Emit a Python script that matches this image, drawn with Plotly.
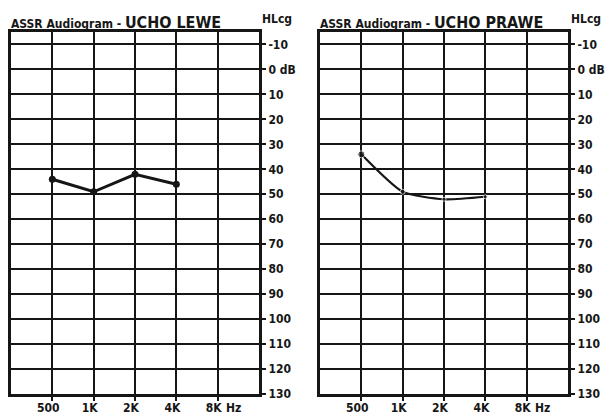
import plotly.graph_objects as go

freq_labels = ["500", "1K", "2K", "4K", "8K"]
freq_pos = [1, 2, 3, 4, 5]
db_ticks = [-10, 0, 10, 20, 30, 40, 50, 60, 70, 80, 90, 100, 110, 120, 130]
db_labels = ["-10", "0 dB", "10", "20", "30", "40", "50", "60", "70", "80", "90", "100", "110", "120", "130"]

left_freq = [1, 2, 3, 4]
left_db = [44, 49, 42, 46]
right_freq = [1, 2, 3, 4]
right_db = [34, 49, 52, 51]

title_head = "ASSR Audiogram -"
title_tails = ["UCHO LEWE", "UCHO PRAWE"]

FONT = "DejaVu Sans Condensed, Liberation Sans"
INK = "#161616"

W, H = 608, 417
fig = go.Figure()

xdoms = [(11 / W, 259 / W), (320 / W, 568 / W)]
ydom = ((H - 394) / H, (H - 32) / H)

fig.add_trace(go.Scatter(x=left_freq, y=left_db, mode="lines+markers",
                         line=dict(color=INK, width=3), marker=dict(size=7, color=INK),
                         xaxis="x", yaxis="y", showlegend=False))
fig.add_trace(go.Scatter(x=right_freq, y=right_db, mode="lines+markers",
                         line=dict(color=INK, width=2.2, shape="spline", smoothing=0.6),
                         marker=dict(size=[7, 5, 4, 4], color=INK),
                         xaxis="x2", yaxis="y2", showlegend=False))

tf = dict(family=FONT, size=12, color=INK, weight="bold")
for i, (xd, tail) in enumerate(zip(xdoms, title_tails)):
    sx = "" if i == 0 else "2"
    fig.update_layout(**{
        "xaxis" + sx: dict(domain=list(xd), range=[0, 6], tickvals=freq_pos, ticktext=freq_labels,
                           showgrid=True, gridcolor=INK, gridwidth=2, zeroline=False,
                           showline=True, linecolor=INK, linewidth=3, mirror=True,
                           ticks="outside", ticklen=4, tickwidth=2, tickcolor=INK,
                           tickfont=tf, automargin=False, ticklabelshift=-4, ticklabelstandoff=-3,
                           anchor="y" + sx, fixedrange=True),
        "yaxis" + sx: dict(domain=list(ydom), range=[130, -15], tickvals=db_ticks, ticktext=db_labels,
                           side="right", showgrid=True, gridcolor=INK, gridwidth=2, zeroline=False,
                           showline=True, linecolor=INK, linewidth=3, mirror=True,
                           ticks="outside", ticklen=4, tickwidth=2, tickcolor=INK,
                           tickfont=tf, automargin=False,
                           anchor="x" + sx, fixedrange=True),
    })
    fig.add_annotation(xref="paper", yref="paper", x=xd[0] - 2 / W, y=(H - 22) / H,
                       xanchor="left", yanchor="middle", showarrow=False,
                       text=title_head + ' <span style="font-size:16px">' + tail + "</span>",
                       font=tf)
    fig.add_annotation(xref="paper", yref="paper", x=xd[1] + 1 / W, y=(H - 19) / H,
                       xanchor="left", yanchor="middle", showarrow=False,
                       text="HLcg", font=tf)
    fig.add_annotation(xref="x" + sx, yref="paper", x=5, y=(H - 408) / H, xshift=6,
                       xanchor="left", yanchor="middle", showarrow=False,
                       text="Hz", font=tf)

fig.update_layout(width=W, height=H, margin=dict(l=0, r=0, t=0, b=0),
                  paper_bgcolor="white", plot_bgcolor="white")
fig.write_html("out.html", config={"displayModeBar": False},
               post_script="document.body.style.margin='0';document.body.style.overflow='hidden';")
